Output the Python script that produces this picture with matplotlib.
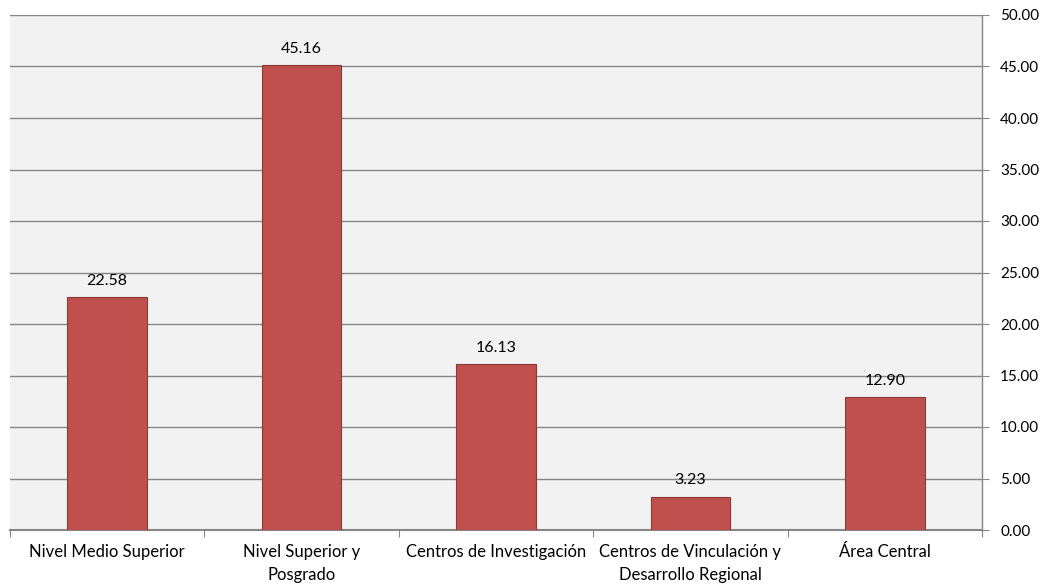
"""Bar chart: percentage by dependency type, values on right axis."""
import matplotlib
matplotlib.use("Agg")
import matplotlib.pyplot as plt
import numpy as np

categories = ["Nivel Medio Superior", "Nivel Superior y\nPosgrado",
              "Centros de Investigación", "Centros de Vinculación y\nDesarrollo Regional",
              "Área Central"]
values = [22.58, 45.16, 16.13, 3.23, 12.90]
yticks = [0, 5, 10, 15, 20, 25, 30, 35, 40, 45, 50]

plt.rcParams["font.family"] = ["Lato", "DejaVu Sans"]

fig = plt.figure(figsize=(10.46, 5.87), dpi=100)
ax = fig.add_axes([10 / 1046, 1 - 530 / 587, 972 / 1046, 515 / 587])
ax.set_facecolor("#f2f2f2")

x = np.arange(len(categories))
bars = ax.bar(x, values, width=0.41, color="#c0504d", edgecolor="#8c3836",
              linewidth=0.8, zorder=3)
for b, v in zip(bars, values):
    ax.text(b.get_x() + b.get_width() / 2, v + 0.9, f"{v:.2f}",
            ha="center", va="bottom", fontsize=11.5, color="#000000")

ax.set_xlim(-0.5, len(categories) - 0.5)
ax.set_ylim(0, 50)
ax.yaxis.tick_right()
ax.set_yticks(yticks)
ax.set_yticklabels([f"{t:.2f}" for t in yticks], fontsize=11)
ax.tick_params(axis="y", length=5, color="#868686", pad=8)
ax.grid(axis="y", color="#868686", linewidth=1.0, zorder=1)

# category labels centered, boundary ticks
ax.set_xticks(np.arange(len(categories) + 1) - 0.5)
ax.set_xticklabels([])
ax.tick_params(axis="x", length=5, color="#868686")
for xi, lab in zip(x, categories):
    ax.text(xi, -1.4, lab, ha="center", va="top", fontsize=12,
            linespacing=1.5)

for side in ("top", "left"):
    ax.spines[side].set_visible(False)
ax.spines["right"].set_color("#868686")
ax.spines["bottom"].set_color("#868686")
ax.spines["right"].set_linewidth(1.0)
ax.spines["bottom"].set_linewidth(1.5)

fig.savefig("out.png", dpi=100)
plt.close(fig)
